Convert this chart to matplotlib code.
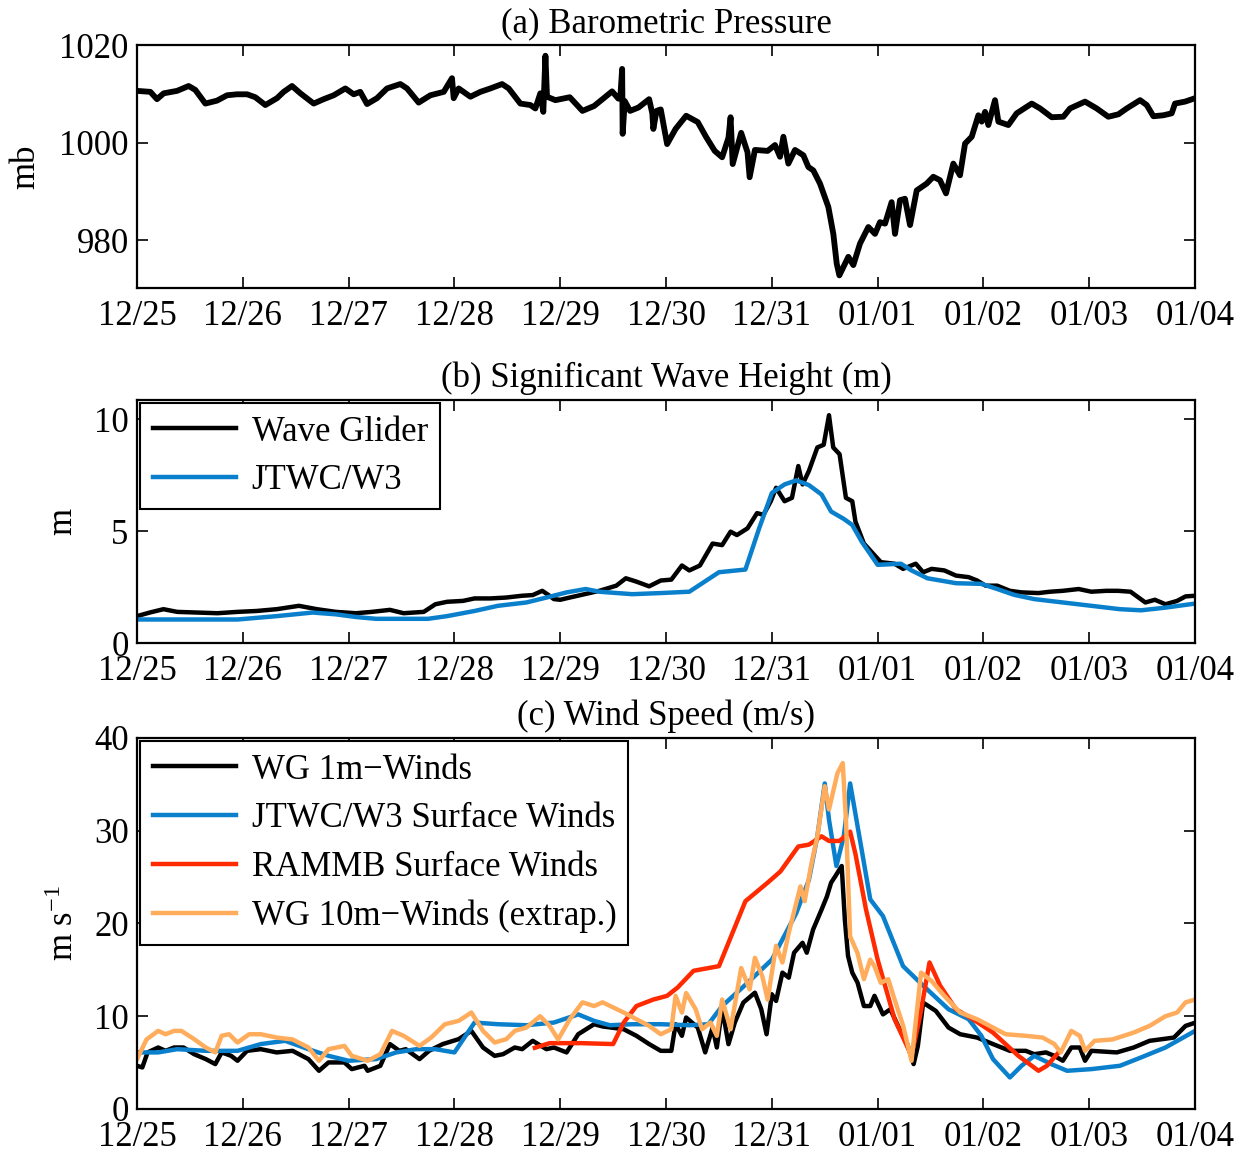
import numpy as np
import matplotlib
matplotlib.use('Agg')
import matplotlib.pyplot as plt

plt.rcParams['font.family'] = ['Liberation Serif', 'DejaVu Serif']
plt.rcParams['mathtext.fontset'] = 'custom'
plt.rcParams['mathtext.rm'] = 'Liberation Serif'
plt.rcParams['mathtext.it'] = 'Liberation Serif:italic'
plt.rcParams['axes.unicode_minus'] = True

# time axis: days since 12/25 00:00
dayLabels = ['12/25', '12/26', '12/27', '12/28', '12/29', '12/30',
             '12/31', '01/01', '01/02', '01/03', '01/04']

# (a) barometric pressure [mb]
tPress = [0.000, 0.126, 0.189, 0.252, 0.378, 0.488, 0.551, 0.646, 0.756, 0.851, 0.945, 1.040,
          1.118, 1.213, 1.323, 1.386, 1.465, 1.544, 1.670, 1.764, 1.859, 1.969, 2.048, 2.110,
          2.174, 2.268, 2.363, 2.489, 2.552, 2.662, 2.773, 2.899, 2.977, 2.993, 3.040, 3.151,
          3.245, 3.340, 3.450, 3.513, 3.623, 3.718, 3.765, 3.812, 3.840, 3.860, 3.875, 3.954,
          4.090, 4.210, 4.320, 4.490, 4.550, 4.570, 4.585, 4.590, 4.610, 4.660, 4.740, 4.840,
          4.870, 4.880, 4.910, 4.950, 5.010, 5.090, 5.190, 5.300, 5.380, 5.460, 5.530, 5.590,
          5.610, 5.630, 5.710, 5.770, 5.790, 5.840, 5.960, 6.030, 6.077, 6.109, 6.156, 6.219,
          6.298, 6.345, 6.392, 6.455, 6.534, 6.581, 6.613, 6.638, 6.676, 6.723, 6.770, 6.833,
          6.912, 6.975, 7.022, 7.070, 7.132, 7.164, 7.211, 7.258, 7.306, 7.369, 7.463, 7.526,
          7.589, 7.646, 7.715, 7.778, 7.826, 7.889, 7.952, 7.983, 8.015, 8.046, 8.109, 8.141,
          8.235, 8.314, 8.456, 8.535, 8.645, 8.755, 8.818, 8.960, 9.070, 9.180, 9.275, 9.354,
          9.480, 9.543, 9.606, 9.700, 9.779, 9.810, 9.905, 10.000]
pressure = [1010.6, 1010.4, 1008.9, 1010.1, 1010.6, 1011.6, 1010.8, 1008.0, 1008.6, 1009.7,
            1009.9, 1009.9, 1009.3, 1007.7, 1009.1, 1010.4, 1011.6, 1010.1, 1008.0, 1008.9,
            1009.7, 1011.1, 1009.9, 1010.4, 1007.9, 1009.1, 1011.1, 1012.0, 1011.1, 1008.2,
            1009.7, 1010.4, 1013.2, 1009.1, 1011.1, 1009.4, 1010.4, 1011.1, 1012.0, 1011.1,
            1008.0, 1007.7, 1007.0, 1010.1, 1006.3, 1017.8, 1009.4, 1008.7, 1009.3, 1006.5,
            1007.5, 1010.5, 1009.0, 1010.0, 1015.1, 1001.8, 1008.5, 1006.5, 1007.2, 1008.9,
            1006.0, 1002.8, 1006.5, 1006.8, 999.7, 1002.8, 1005.5, 1004.2, 1001.1, 998.3,
            997.0, 1001.0, 1005.2, 995.6, 1002.0, 998.0, 992.9, 998.5, 998.3, 999.5,
            997.1, 1001.2, 995.7, 998.5, 997.4, 995.0, 994.3, 991.6, 986.8, 981.3,
            975.2, 972.8, 974.5, 976.6, 974.9, 979.3, 982.7, 981.3, 983.7, 983.4,
            987.8, 981.3, 988.2, 988.5, 983.1, 990.2, 991.6, 993.0, 992.3, 989.6,
            995.7, 993.3, 999.8, 1001.2, 1005.6, 1004.3, 1006.3, 1003.6, 1008.7, 1004.3,
            1003.6, 1006.0, 1008.0, 1007.0, 1005.2, 1005.3, 1007.0, 1008.4, 1007.0, 1005.3,
            1005.8, 1007.0, 1008.7, 1007.7, 1005.4, 1005.6, 1006.0, 1008.0, 1008.4, 1009.1]

# (b) significant wave height [m]
tWaveWG = [0.00, 0.12, 0.25, 0.38, 0.57, 0.76, 0.95, 1.13, 1.32, 1.53, 1.70, 1.88, 2.07,
           2.22, 2.39, 2.52, 2.71, 2.82, 2.93, 3.08, 3.19, 3.34, 3.49, 3.64, 3.74, 3.83,
           3.89, 3.94, 4.00, 4.09, 4.37, 4.53, 4.62, 4.72, 4.84, 4.95, 5.05, 5.15, 5.22,
           5.32, 5.44, 5.53, 5.61, 5.67, 5.77, 5.86, 5.92, 5.99, 6.04, 6.12, 6.19, 6.25,
           6.29, 6.35, 6.43, 6.49, 6.54, 6.58, 6.64, 6.70, 6.76, 6.79, 6.87, 6.97, 7.03,
           7.16, 7.24, 7.36, 7.43, 7.51, 7.63, 7.74, 7.86, 7.94, 8.02, 8.13, 8.25, 8.36,
           8.52, 8.63, 8.75, 8.90, 9.02, 9.16, 9.27, 9.39, 9.53, 9.62, 9.72, 9.83, 9.91,
           10.00]
waveWG = [1.20, 1.36, 1.51, 1.39, 1.36, 1.33, 1.39, 1.43, 1.51, 1.66, 1.51, 1.39, 1.33,
          1.39, 1.48, 1.33, 1.39, 1.73, 1.84, 1.88, 1.99, 1.99, 2.03, 2.11, 2.14, 2.33,
          2.14, 1.96, 1.93, 2.03, 2.33, 2.56, 2.89, 2.74, 2.53, 2.79, 2.83, 3.46, 3.24,
          3.46, 4.44, 4.37, 4.97, 4.82, 5.12, 5.80, 5.72, 6.33, 6.93, 6.33, 6.48, 7.90,
          7.08, 7.68, 8.73, 8.85, 10.17, 8.73, 8.43, 6.48, 6.33, 5.42, 4.44, 3.92, 3.61,
          3.54, 3.31, 3.54, 3.16, 3.31, 3.24, 3.01, 2.94, 2.79, 2.56, 2.56, 2.33, 2.26,
          2.23, 2.29, 2.33, 2.41, 2.29, 2.33, 2.33, 2.29, 1.81, 1.93, 1.73, 1.88, 2.08,
          2.11]

tWaveW3 = [0.00, 0.57, 0.95, 1.32, 1.66, 1.88, 2.07, 2.26, 2.45, 2.75, 2.93, 3.19, 3.41,
           3.68, 3.87, 4.06, 4.24, 4.37, 4.68, 4.95, 5.22, 5.50, 5.75, 5.88, 6.00, 6.12,
           6.23, 6.35, 6.47, 6.56, 6.68, 6.76, 6.85, 7.00, 7.22, 7.32, 7.47, 7.74, 7.98,
           8.13, 8.29, 8.48, 8.75, 9.02, 9.29, 9.49, 9.72, 10.00]
waveW3 = [1.05, 1.05, 1.05, 1.20, 1.36, 1.28, 1.16, 1.08, 1.08, 1.08, 1.20, 1.43, 1.66,
          1.81, 2.03, 2.26, 2.41, 2.29, 2.18, 2.23, 2.29, 3.16, 3.28, 5.12, 6.70, 7.08,
          7.26, 7.05, 6.63, 5.87, 5.54, 5.27, 4.52, 3.49, 3.54, 3.24, 2.89, 2.67, 2.64,
          2.41, 2.15, 1.96, 1.81, 1.66, 1.51, 1.46, 1.58, 1.76]

# (c) wind speed [m/s]
tWind1m = [0.00, 0.05, 0.10, 0.20, 0.27, 0.35, 0.44, 0.54, 0.65, 0.74, 0.80, 0.89, 0.95,
           1.04, 1.17, 1.32, 1.47, 1.62, 1.72, 1.81, 1.96, 2.03, 2.15, 2.18, 2.30, 2.39,
           2.48, 2.54, 2.67, 2.76, 2.89, 3.04, 3.16, 3.27, 3.38, 3.46, 3.57, 3.64, 3.74,
           3.87, 3.94, 4.06, 4.17, 4.32, 4.40, 4.60, 4.72, 4.84, 4.95, 5.05, 5.09, 5.15,
           5.19, 5.30, 5.37, 5.44, 5.48, 5.53, 5.59, 5.65, 5.73, 5.84, 5.90, 5.95, 6.00,
           6.04, 6.10, 6.16, 6.21, 6.29, 6.33, 6.39, 6.47, 6.52, 6.56, 6.60, 6.66, 6.69,
           6.72, 6.76, 6.81, 6.87, 6.93, 6.97, 7.05, 7.12, 7.20, 7.28, 7.34, 7.38, 7.43,
           7.55, 7.67, 7.78, 7.94, 8.09, 8.25, 8.40, 8.48, 8.59, 8.67, 8.75, 8.83, 8.91,
           8.96, 9.02, 9.26, 9.42, 9.57, 9.80, 9.91, 10.00]
wind1m = [4.66, 4.48, 6.10, 6.63, 6.27, 6.63, 6.63, 5.91, 5.38, 4.84, 6.10, 5.73, 5.20,
          6.27, 6.45, 6.10, 6.27, 5.38, 4.12, 5.02, 5.02, 4.30, 4.66, 4.12, 4.66, 7.00,
          6.27, 6.45, 5.38, 6.27, 7.00, 7.53, 8.42, 6.63, 5.73, 5.91, 6.63, 6.45, 7.35,
          6.45, 6.63, 6.10, 8.06, 9.14, 8.90, 8.60, 7.89, 7.00, 6.27, 6.27, 9.14, 7.89,
          9.86, 8.78, 6.10, 8.78, 6.63, 10.90, 6.99, 9.32, 11.47, 12.54, 10.75, 8.06, 12.37,
          11.65, 14.70, 14.16, 16.85, 17.92, 16.85, 19.35, 21.50, 22.90, 24.40, 25.10, 26.20, 20.40,
          16.50, 14.70, 13.62, 11.10, 11.10, 12.20, 10.20, 10.75, 8.78, 7.00, 4.84, 6.80, 11.47,
          10.57, 8.78, 8.06, 7.70, 7.00, 6.27, 6.27, 5.91, 6.10, 5.73, 5.20, 6.63, 6.63,
          5.20, 6.27, 6.10, 6.63, 7.35, 7.70, 8.96, 9.30]

tWindW3 = [0.00, 0.20, 0.38, 0.65, 0.95, 1.17, 1.40, 1.62, 1.81, 2.00, 2.26, 2.45, 2.64,
           2.82, 3.00, 3.19, 3.41, 3.68, 3.94, 4.17, 4.32, 4.47, 4.68, 4.95, 5.22, 5.40,
           5.53, 5.77, 6.00, 6.23, 6.35, 6.43, 6.50, 6.54, 6.61, 6.68, 6.74, 6.81, 6.93,
           7.05, 7.24, 7.43, 7.67, 7.86, 7.98, 8.09, 8.25, 8.36, 8.48, 8.64, 8.79, 9.02,
           9.29, 9.49, 9.72, 10.00]
windW3 = [6.10, 6.10, 6.45, 6.27, 6.27, 7.00, 7.35, 6.45, 5.73, 5.20, 5.38, 6.10, 6.45,
          6.45, 6.10, 9.32, 9.14, 9.03, 9.32, 10.20, 9.50, 9.03, 9.14, 9.14, 9.03, 9.14,
          11.10, 13.60, 16.10, 21.10, 24.70, 29.40, 35.10, 31.20, 26.20, 29.40, 35.10, 30.50, 22.60,
          20.80, 15.40, 13.30, 10.75, 9.68, 7.89, 5.38, 3.40, 4.66, 5.73, 4.84, 4.12, 4.30,
          4.66, 5.56, 6.63, 8.42]

tWindRAMMB = [3.76, 3.90, 4.20, 4.50, 4.60, 4.72, 4.88, 5.01, 5.11, 5.26, 5.50, 5.75, 5.96,
              6.08, 6.25, 6.35, 6.47, 6.54, 6.64, 6.74, 6.79, 6.89, 7.00, 7.16, 7.32, 7.40,
              7.49, 7.59, 7.74, 7.90, 8.09, 8.33, 8.52, 8.60, 8.71]
windRAMMB = [6.60, 7.10, 7.10, 7.00, 9.32, 11.10, 11.80, 12.20, 13.10, 14.90, 15.40, 22.40, 24.40,
             25.60, 28.30, 28.50, 29.40, 28.90, 28.90, 29.90, 27.50, 21.50, 16.10, 9.68, 5.73, 10.00,
             15.80, 13.30, 10.75, 9.68, 8.24, 5.73, 4.12, 4.66, 6.10]

tWind10m = [0.00, 0.09, 0.20, 0.27, 0.35, 0.42, 0.54, 0.65, 0.74, 0.80, 0.87, 0.95, 1.06,
            1.17, 1.32, 1.47, 1.62, 1.72, 1.81, 1.96, 2.03, 2.18, 2.30, 2.41, 2.52, 2.67,
            2.78, 2.91, 3.04, 3.16, 3.27, 3.38, 3.49, 3.57, 3.68, 3.81, 3.90, 3.98, 4.09,
            4.21, 4.32, 4.40, 4.60, 4.72, 4.84, 4.95, 5.05, 5.09, 5.15, 5.19, 5.28, 5.34,
            5.42, 5.48, 5.53, 5.61, 5.71, 5.79, 5.84, 5.91, 5.96, 6.04, 6.10, 6.16, 6.27,
            6.31, 6.37, 6.43, 6.50, 6.54, 6.62, 6.67, 6.70, 6.74, 6.81, 6.87, 6.93, 6.97,
            7.03, 7.10, 7.16, 7.24, 7.32, 7.41, 7.51, 7.63, 7.78, 7.94, 8.09, 8.21, 8.40,
            8.56, 8.67, 8.73, 8.83, 8.91, 8.96, 9.05, 9.22, 9.42, 9.57, 9.72, 9.83, 9.91,
            10.00]
wind10m = [5.38, 7.50, 8.42, 8.06, 8.42, 8.42, 7.53, 6.63, 6.10, 7.90, 8.06, 7.17, 8.06,
           8.06, 7.70, 7.50, 6.63, 5.20, 6.45, 6.80, 5.73, 5.20, 5.91, 8.42, 7.89, 6.80,
           7.70, 9.14, 9.50, 10.40, 8.42, 7.17, 7.53, 8.42, 8.78, 10.00, 8.96, 7.50, 9.68,
           11.50, 11.10, 11.50, 10.40, 9.68, 8.96, 8.06, 8.60, 12.20, 10.40, 12.50, 10.75, 8.60,
           9.32, 7.89, 11.80, 8.60, 15.20, 12.90, 16.30, 14.30, 11.80, 17.60, 15.80, 19.00, 24.00,
           22.40, 26.20, 29.40, 34.80, 32.30, 36.20, 37.30, 31.20, 18.60, 16.80, 14.00, 16.10, 15.40,
           13.60, 14.00, 11.80, 9.00, 5.20, 14.70, 13.80, 12.20, 10.40, 9.68, 8.78, 8.06, 7.89,
           7.70, 7.00, 6.10, 8.42, 7.89, 6.27, 7.35, 7.50, 8.24, 8.96, 10.00, 10.40, 11.50,
           11.80]

blue = '#0a80cc'
red = '#ff2a00'
orange = '#ffad5c'
fs = 25


def style_axes(ax, yticks, ylim):
    ax.set_xlim(0, 10)
    ax.set_xticks(np.arange(len(dayLabels)))
    ax.set_xticklabels(dayLabels)
    ax.set_ylim(*ylim)
    ax.set_yticks(yticks)
    ax.tick_params(direction='in', length=8, width=1.2, top=True, right=True,
                   labelsize=fs)
    ax.tick_params(axis='x', pad=8.5)
    ax.tick_params(axis='y', pad=6)
    for sp in ax.spines.values():
        sp.set_linewidth(1.6)


def add_legend(ax):
    leg = ax.legend(loc='upper left', fontsize=fs, frameon=True, fancybox=False,
                    edgecolor='k', framealpha=1, borderaxespad=0.1, borderpad=0.35,
                    labelspacing=0.45, handlelength=2.4, handletextpad=0.45)
    leg.get_frame().set_linewidth(1.5)
    return leg


fig = plt.figure(figsize=(12.41, 11.54), dpi=100)
axA = fig.add_axes([0.1104, 0.7504, 0.8526, 0.2106])
axB = fig.add_axes([0.1104, 0.4428, 0.8526, 0.2106])
axC = fig.add_axes([0.1104, 0.0390, 0.8526, 0.3215])

# (a) pressure
axA.plot(tPress, pressure, color='k', lw=4.2)
style_axes(axA, [980, 1000, 1020], (970.2, 1020))
axA.set_ylabel('mb', fontsize=fs)
axA.yaxis.set_label_coords(-0.09, 0.5)
axA.set_title('(a) Barometric Pressure', fontsize=fs, pad=9)

# (b) wave height
axB.plot(tWaveWG, waveWG, color='k', lw=3.2, label='Wave Glider')
axB.plot(tWaveW3, waveW3, color=blue, lw=3.2, label='JTWC/W3')
style_axes(axB, [0, 5, 10], (0, 10.85))
axB.set_ylabel('m', fontsize=fs)
axB.yaxis.set_label_coords(-0.055, 0.5)
axB.set_title('(b) Significant Wave Height (m)', fontsize=fs, pad=9)
add_legend(axB)

# (c) wind speed
axC.plot(tWind1m, wind1m, color='k', lw=3.2, label='WG 1m\u2212Winds')
axC.plot(tWindW3, windW3, color=blue, lw=3.2, label='JTWC/W3 Surface Winds')
axC.plot(tWindRAMMB, windRAMMB, color=red, lw=3.2, label='RAMMB Surface Winds')
axC.plot(tWind10m, wind10m, color=orange, lw=3.2, label='WG 10m\u2212Winds (extrap.)')
style_axes(axC, [0, 10, 20, 30, 40], (0, 40))
axC.set_ylabel(r'm s$^{\mathregular{-1}}$', fontsize=fs)
axC.yaxis.set_label_coords(-0.053, 0.5)
axC.set_title('(c) Wind Speed (m/s)', fontsize=fs, pad=9)
add_legend(axC)

fig.savefig('out.png', dpi=100)
